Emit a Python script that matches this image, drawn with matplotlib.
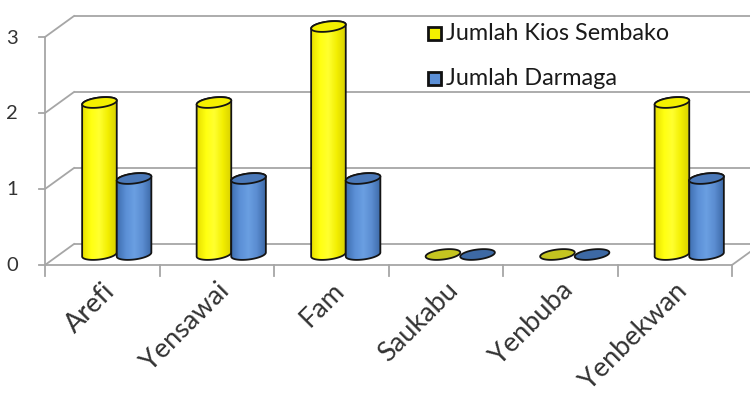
import numpy as np
import matplotlib
matplotlib.use("Agg")
import matplotlib.pyplot as plt
from matplotlib.patches import Polygon, Rectangle
from matplotlib.colors import LinearSegmentedColormap

plt.rcParams["font.family"] = ["Lato", "DejaVu Sans"]

# ---- data ----
categories = ["Arefi", "Yensawai", "Fam", "Saukabu", "Yenbuba", "Yenbekwan"]
kios_sembako = [2, 2, 3, 0, 0, 2]
darmaga = [1, 1, 1, 0, 0, 1]
series_names = ["Jumlah Kios Sembako", "Jumlah Darmaga"]
y_ticks = [0, 1, 2, 3]

# ---- figure / axes: one data unit = one category (x), one count (y) ----
W, H = 750, 402
fig = plt.figure(figsize=(W / 100, H / 100), dpi=100)
ax = fig.add_axes([0, 0, 1, 1])
ax.set_axis_off()

px_per_cat = 114.5
px_per_val = 76.0
x0_px, y0_px = 45.0, 266.0          # front-left corner of the floor (pixels, top-down)
xlim = (-x0_px / px_per_cat, (W - x0_px) / px_per_cat)
ylim = (-(H - y0_px) / px_per_val, y0_px / px_per_val)

# depth of the 3-D box, in data units
dxb = 29 / px_per_cat
dyb = 21 / px_per_val
dxm, dym = dxb / 2, dyb / 2

grid_c = "#a6a6a6"
glw = 1.3
n = len(categories)
ymax = max(y_ticks)

# back wall + left wall gridlines
for v in y_ticks:
    ax.plot([dxb, n + dxb + 1], [v + dyb, v + dyb], color=grid_c, lw=glw, zorder=1,
            solid_capstyle="butt")
    ax.plot([0, dxb], [v, v + dyb], color=grid_c, lw=glw, zorder=1)
    ax.plot([-6 / px_per_cat, 0], [v, v], color=grid_c, lw=glw, zorder=1)
# front value axis
ax.plot([0, 0], [0, ymax], color=grid_c, lw=glw, zorder=1)
# floor front edge and right diagonal
ax.plot([0, n], [0, 0], color=grid_c, lw=glw, zorder=1)
ax.plot([n, n + dxb], [0, dyb], color=grid_c, lw=glw, zorder=1)
# category tick marks
for k in range(n + 1):
    ax.plot([k, k], [0, -11 / px_per_val], color=grid_c, lw=glw, zorder=1)

# ---- cylinders ----
a = 17.3 / px_per_cat          # half width
b = 5.0 / px_per_val           # half ellipse height
s = (4.0 / px_per_val) / (2 * a)   # slight tilt of the ellipses

styles = [
    dict(body=["#e8e000", "#ffff10", "#ffff30", "#f2ee00", "#d8d000"],
         top="#f4f000", zero="#c4c420"),
    dict(body=["#3f6fb0", "#5b8fd6", "#6a9fe2", "#5a8cd0", "#3c68a6"],
         top="#4a78b8", zero="#3d69a4"),
]
edge = "#141414"
elw = 1.3


def ellipse_pts(cx, cy, t):
    x = cx + a * np.cos(t)
    y = cy + b * np.sin(t) + s * (x - cx)
    return x, y


def cylinder(cx, value, st, z):
    bot = dym
    top = dym + value
    if value == 0:
        t = np.linspace(0, 2 * np.pi, 120)
        xs, ys = ellipse_pts(cx, bot, t)
        ax.add_patch(Polygon(np.column_stack([xs, ys]), closed=True, fc=st["zero"],
                             ec=edge, lw=elw, zorder=z))
        return
    tb = np.linspace(np.pi, 2 * np.pi, 80)
    tt = np.linspace(0, np.pi, 80)
    xb, yb = ellipse_pts(cx, bot, tb)
    xt, yt = ellipse_pts(cx, top, tt)
    body = np.column_stack([np.r_[xb, xt], np.r_[yb, yt]])
    body_patch = Polygon(body, closed=True, fc="none", ec=edge, lw=elw, zorder=z + 0.2)
    ax.add_patch(body_patch)
    cmap = LinearSegmentedColormap.from_list("c", st["body"])
    grad = np.linspace(0, 1, 64)[None, :]
    im = ax.imshow(grad, cmap=cmap, aspect="auto", interpolation="bilinear",
                   extent=(cx - a, cx + a, bot - 2 * b, top + 2 * b), zorder=z)
    im.set_clip_path(body_patch)
    t = np.linspace(0, 2 * np.pi, 120)
    xs, ys = ellipse_pts(cx, top, t)
    ax.add_patch(Polygon(np.column_stack([xs, ys]), closed=True, fc=st["top"],
                         ec=edge, lw=elw, zorder=z + 0.3))


z = 3
for i in range(n):
    c = i + 0.5 + dxm
    cylinder(c - a, kios_sembako[i], styles[0], z)
    z += 1
    cylinder(c + a, darmaga[i], styles[1], z)
    z += 1

# ---- labels ----
txt_c = "#333333"
for v in y_ticks:
    ax.text(-33 / px_per_cat, v, str(v), ha="center", va="center", fontsize=14.5,
            color=txt_c)
for i, name in enumerate(categories):
    ax.text(i + 0.5 + 0.0, -12 / px_per_val, name, rotation=45, ha="right", va="top",
            rotation_mode="anchor", fontsize=19.5, color=txt_c)

# ---- legend ----
leg_fill = [styles[0]["top"], "#5b8fd6"]
leg_y = [34, 79]
for name, fc, yp in zip(series_names, leg_fill, leg_y):
    sq = 13
    fig.add_artist(Rectangle(((428) / W, 1 - (yp + sq / 2) / H), sq / W, sq / H,
                             transform=fig.transFigure, fc=fc, ec="#111111", lw=2.0))
    fig.text(446 / W, 1 - yp / H, name, ha="left", va="center", fontsize=16.8,
             color="#1a1a1a")

ax.set_xlim(*xlim)
ax.set_ylim(*ylim)
fig.savefig("out.png", dpi=100, facecolor="white")
